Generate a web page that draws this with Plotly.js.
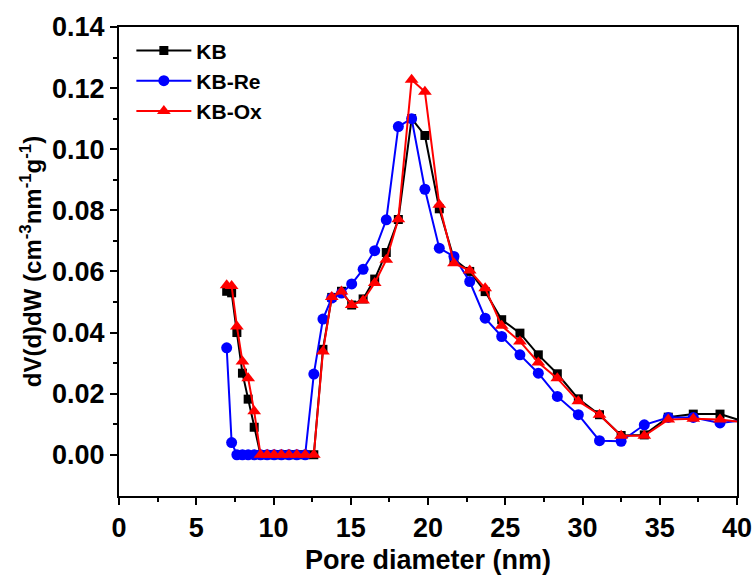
<!DOCTYPE html>
<html>
<head>
<meta charset="utf-8">
<script src="https://cdn.plot.ly/plotly-3.0.1.min.js"></script>
<style>html,body{margin:0;padding:0;background:#fff;}#chart{width:756px;height:579px;}</style>
</head>
<body>
<div id="chart"></div>
<script>
const poreDiameter = [6.97,7.29,7.63,7.99,8.36,8.75,9.16,9.59,10.04,10.51,11.0,11.51,12.05,12.61,13.2,13.77,14.4,15.06,15.8,16.55,17.3,18.08,18.94,19.8,20.73,21.68,22.7,23.7,24.77,25.95,27.14,28.37,29.73,31.1,32.5,34.0,35.55,37.17,38.9,40.7];
const kb   = [0.0535,0.0530,0.040,0.0267,0.0182,0.0090,0,0,0,0,0,0,0,0,0.0345,0.0515,0.0535,0.049,0.051,0.0575,0.0662,0.077,0.110,0.1045,0.0805,0.064,0.060,0.0534,0.0442,0.0398,0.0327,0.0265,0.0183,0.0131,0.0063,0.0065,0.0123,0.0133,0.0133,0.0105];
const kbRe = [0.035,0.004,0,0,0,0,0,0,0,0,0,0,0,0.0264,0.0444,0.0513,0.0529,0.0559,0.0607,0.0668,0.0769,0.1074,0.110,0.0869,0.0676,0.0649,0.0567,0.0447,0.0387,0.0327,0.0267,0.0191,0.0131,0.0046,0.0044,0.0098,0.0122,0.0122,0.0104,0.0115];
const kbOx = [0.0555,0.0552,0.042,0.0305,0.025,0.0142,0,0,0,0,0,0,0,0,0.0338,0.0516,0.0534,0.049,0.0505,0.0562,0.0638,0.0771,0.1227,0.1188,0.0818,0.0627,0.0603,0.0545,0.0422,0.0371,0.0302,0.025,0.0175,0.0131,0.0062,0.0062,0.0115,0.0118,0.0115,0.0105];
const seriesNames = ['KB','KB-Re','KB-Ox'];
const xTicks = [0,5,10,15,20,25,30,35,40];
const xMinor = [2.5,7.5,12.5,17.5,22.5,27.5,32.5,37.5];
const yTicks = [0.00,0.02,0.04,0.06,0.08,0.10,0.12,0.14];
const yMinor = [0.01,0.03,0.05,0.07,0.09,0.11,0.13];

const fontFam = 'Arial, "Liberation Sans", sans-serif';
const traces = [
  {x: poreDiameter, y: kb, name: seriesNames[0], mode: 'lines+markers',
   line: {color: '#000000', width: 2}, marker: {symbol: 'square', size: 9, color: '#000000'}},
  {x: poreDiameter, y: kbRe, name: seriesNames[1], mode: 'lines+markers',
   line: {color: '#0000ff', width: 2}, marker: {symbol: 'circle', size: 11, color: '#0000ff'}},
  {x: poreDiameter, y: kbOx, name: seriesNames[2], mode: 'lines+markers',
   line: {color: '#ff0000', width: 2}, marker: {symbol: 'triangle-up', size: 12, color: '#ff0000'}}
];

const axisCommon = {
  showgrid: false, zeroline: false, showline: true, linecolor: '#000', linewidth: 2,
  mirror: true, ticks: 'outside', ticklen: 7, tickwidth: 2, tickcolor: '#000',
  tickfont: {family: fontFam, size: 27, color: '#000', weight: 'bold'}
};

const layout = {
  width: 756, height: 579,
  margin: {l: 119, r: 19, t: 27, b: 83},
  paper_bgcolor: '#fff', plot_bgcolor: '#fff',
  showlegend: true,
  legend: {x: 0.02, y: 0.993, xanchor: 'left', yanchor: 'top', bgcolor: 'rgba(0,0,0,0)',
           font: {family: fontFam, size: 21, color: '#000', weight: 'bold'}, itemwidth: 55,
           tracegroupgap: 0},
  xaxis: Object.assign({}, axisCommon, {
    range: [0, 40], tickvals: xTicks, ticktext: xTicks.map(String),
    minor: {tickvals: xMinor, ticks: 'outside', ticklen: 4, tickwidth: 2, tickcolor: '#000'},
    title: {text: 'Pore diameter (nm)', standoff: 8, font: {family: fontFam, size: 27, color: '#000', weight: 'bold'}}
  }),
  yaxis: Object.assign({}, axisCommon, {
    range: [-0.0135, 0.14], tickvals: yTicks, ticktext: yTicks.map(v => v.toFixed(2)),
    minor: {tickvals: yMinor, ticks: 'outside', ticklen: 4, tickwidth: 2, tickcolor: '#000'},
    title: {text: 'dV(d)dW (cm<sup>-3</sup>nm<sup>-1</sup>g<sup>-1</sup>)', standoff: 4, font: {family: fontFam, size: 24, color: '#000', weight: 'bold'}}
  })
};

Plotly.newPlot('chart', traces, layout, {displayModeBar: false, staticPlot: true});
</script>
</body>
</html>
